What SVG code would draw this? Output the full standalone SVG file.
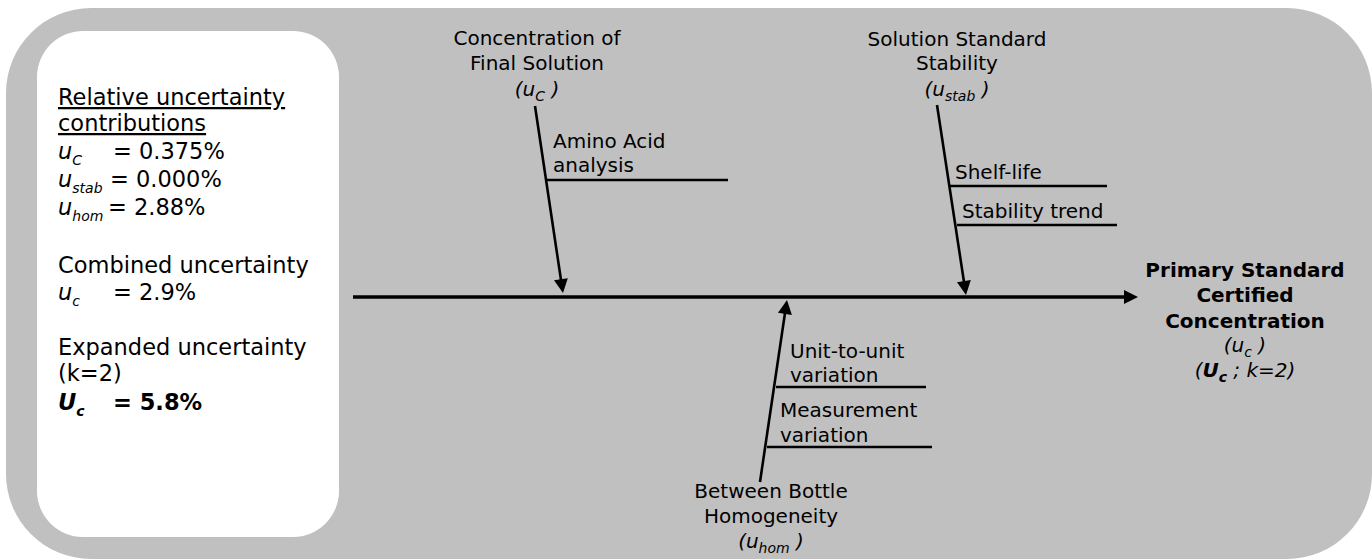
<svg xmlns="http://www.w3.org/2000/svg" width="1372" height="559" viewBox="0 0 1372 559">
<style>
text{font-family:"DejaVu Sans","Verdana",sans-serif;fill:#000}
.lp{font-size:22.5px}
.t{font-size:20px}
.b{font-weight:bold}
.i{font-style:italic}
.sub{font-size:14px}
.bone{stroke:#000;stroke-width:2.6;fill:none}
.main{stroke:#000;stroke-width:3.5;fill:none}
.head{fill:#000;stroke:none}
</style>
<rect x="6" y="8" width="1366" height="551" rx="85" ry="85" fill="#c0c0c0"/>
<g id="summary">
<rect x="37" y="31" width="302" height="506" rx="46" ry="46" fill="#ffffff"/>
<text class="lp" x="58" y="105" text-decoration="underline">Relative uncertainty</text>
<text class="lp" x="58" y="131" text-decoration="underline">contributions</text>
<text class="lp" x="58" y="159"><tspan class="i">u</tspan><tspan class="i sub" dy="6">C</tspan><tspan x="113" dy="-6">= 0.375%</tspan></text>
<text class="lp" x="58" y="187"><tspan class="i">u</tspan><tspan class="i sub" dy="6">stab</tspan><tspan x="110" dy="-6">= 0.000%</tspan></text>
<text class="lp" x="58" y="215"><tspan class="i">u</tspan><tspan class="i sub" dy="6">hom</tspan><tspan x="108" dy="-6">= 2.88%</tspan></text>
<text class="lp" x="58" y="273">Combined uncertainty</text>
<text class="lp" x="58" y="300"><tspan class="i">u</tspan><tspan class="i sub" dy="6">c</tspan><tspan x="113" dy="-6">= 2.9%</tspan></text>
<text class="lp" x="58" y="355">Expanded uncertainty</text>
<text class="lp" x="58" y="381">(k=2)</text>
<text class="lp b" x="58" y="410"><tspan class="i">U</tspan><tspan class="i sub" dy="6">c</tspan><tspan x="113" dy="-6">= 5.8%</tspan></text>
</g>
<g id="connectors">
<line class="main" x1="353" y1="297" x2="1125" y2="297"/>
<polygon class="head" points="1138,297 1124,290 1124,304"/>
<line class="bone" x1="535" y1="106" x2="561" y2="280"/>
<polygon class="head" points="563,293 567.8,278.2 554,280.2"/>
<line class="bone" x1="547" y1="180" x2="728" y2="180"/>
<line class="bone" x1="937" y1="105" x2="964" y2="282"/>
<polygon class="head" points="966,295 970.8,280.1 957,282.2"/>
<line class="bone" x1="950" y1="186" x2="1107" y2="186"/>
<line class="bone" x1="957" y1="225" x2="1117" y2="225"/>
<line class="bone" x1="760" y1="482" x2="785" y2="313"/>
<polygon class="head" points="787,300 791.9,314.9 778,312.8"/>
<line class="bone" x1="776" y1="387" x2="926" y2="387"/>
<line class="bone" x1="767" y1="447" x2="932" y2="447"/>
</g>
<g id="concentration">
<text class="t" x="537" y="45" text-anchor="middle">Concentration of</text>
<text class="t" x="537" y="70" text-anchor="middle">Final Solution</text>
<text class="t" x="537" y="96" text-anchor="middle"><tspan class="i">(u</tspan><tspan class="i sub" dy="5">C</tspan><tspan class="i" dy="-5"> )</tspan></text>
</g>
<g id="amino-acid">
<text class="t" x="553" y="148">Amino Acid</text>
<text class="t" x="553" y="172">analysis</text>
</g>
<g id="stability">
<text class="t" x="957" y="46" text-anchor="middle">Solution Standard</text>
<text class="t" x="957" y="70" text-anchor="middle">Stability</text>
<text class="t" x="957" y="96" text-anchor="middle"><tspan class="i">(u</tspan><tspan class="i sub" dy="5">stab</tspan><tspan class="i" dy="-5"> )</tspan></text>
</g>
<g id="shelf-life">
<text class="t" x="955" y="179">Shelf-life</text>
</g>
<g id="stability-trend">
<text class="t" x="962" y="218">Stability trend</text>
</g>
<g id="homogeneity">
<text class="t" x="771" y="498" text-anchor="middle">Between Bottle</text>
<text class="t" x="771" y="523" text-anchor="middle">Homogeneity</text>
<text class="t" x="771" y="548" text-anchor="middle"><tspan class="i">(u</tspan><tspan class="i sub" dy="5">hom</tspan><tspan class="i" dy="-5"> )</tspan></text>
</g>
<g id="unit-to-unit">
<text class="t" x="790" y="358">Unit-to-unit</text>
<text class="t" x="790" y="382">variation</text>
</g>
<g id="measurement">
<text class="t" x="780" y="417">Measurement</text>
<text class="t" x="780" y="442">variation</text>
</g>
<g id="result">
<text class="t b" x="1245" y="277" text-anchor="middle">Primary Standard</text>
<text class="t b" x="1245" y="302" text-anchor="middle">Certified</text>
<text class="t b" x="1245" y="328" text-anchor="middle">Concentration</text>
<text class="t" x="1245" y="352" text-anchor="middle"><tspan class="i">(u</tspan><tspan class="i sub" dy="5">c</tspan><tspan class="i" dy="-5"> )</tspan></text>
<text class="t" x="1245" y="377" text-anchor="middle"><tspan class="i">(</tspan><tspan class="i b">U</tspan><tspan class="i b sub" dy="5">c</tspan><tspan class="i" dy="-5"> ; k=2)</tspan></text>
</g>
</svg>
